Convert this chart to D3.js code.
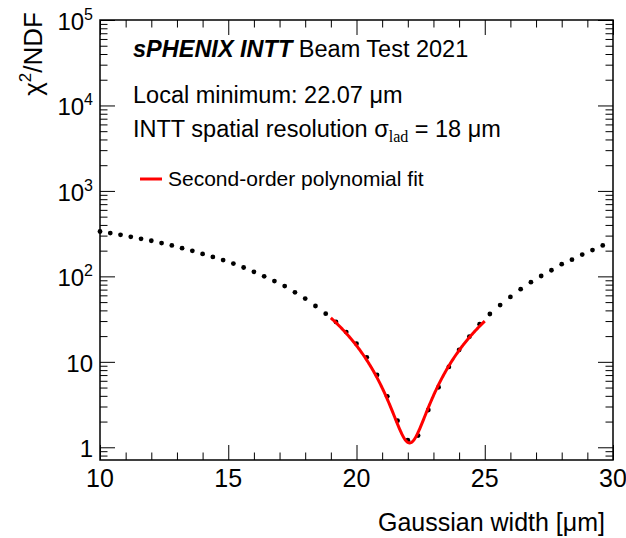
<!DOCTYPE html>
<html><head><meta charset="utf-8">
<script src="https://cdn.jsdelivr.net/npm/d3@7"></script>
<style>
body{margin:0;background:#fff}
svg{display:block}
text{font-family:"Liberation Sans", Arial, sans-serif;fill:#000}
</style>
</head><body>
<svg id="c" width="626" height="538"></svg>
<script>
// ---- data ----
const widths = [10.0,10.4,10.8,11.2,11.6,12.0,12.4,12.8,13.2,13.6,14.0,14.4,14.8,15.2,15.6,16.0,16.4,16.8,17.2,17.6,
                18.0,18.4,18.8,19.2,19.6,20.0,20.4,20.8,21.2,21.6,22.0,22.4,22.8,23.2,23.6,24.0,24.4,24.8,25.2,25.6,
                26.0,26.4,26.8,27.2,27.6,28.0,28.4,28.8,29.2,29.6];
const chi2 = [335,321,306,290,275,261,245,230,214,199,183,169,155,141,127,113,100,88,77,65,
              55,45,36.6,29.3,22.3,16.3,11.3,7.03,3.95,2.05,1.21,1.37,2.73,5.04,8.71,13.8,19.7,27.6,36.3,46.2,
              57.5,70.8,85.5,101,118,139,157,180,203,230];
const fitCoefficients = [1632.86, -147.869, 3.35]; // p0 + p1*x + p2*x^2
const fitRange = [19.0, 25.0];
const xTickValues = [10,15,20,25,30];
const xMinorValues = [11,12,13,14,16,17,18,19,21,22,23,24,26,27,28,29];
const yTickExponents = [0,1,2,3,4,5];
const yMinorMultipliers = [2,3,4,5,6,7,8,9];
const xDomain = [10,30];
const yDomain = [0.71,1e5];

// ---- layout ----
const L=100,R=613,T=20,B=460;
const svg = d3.select("#c");
const x = d3.scaleLinear().domain(xDomain).range([L,R]);
const y = d3.scaleLog().domain(yDomain).range([B,T]);

const yMajor = yTickExponents.map(e=>Math.pow(10,e));
const yMinor = [];
for (let e=-1;e<=4;e++) yMinorMultipliers.forEach(m=>{const v=m*Math.pow(10,e); if(v>=yDomain[0]&&v<=yDomain[1]) yMinor.push(v);});

function axisG(axis, tx, ty){
  const g = svg.append("g").attr("transform",`translate(${tx},${ty})`).call(axis);
  g.select(".domain").remove();
  g.selectAll(".tick line").attr("stroke","#000").attr("stroke-width",1);
  g.selectAll(".tick text").remove();
  return g;
}
const MAJ=15, MIN=7.5;
axisG(d3.axisBottom(x).tickValues(xTickValues).tickSize(-MAJ).tickFormat(""),0,B);
axisG(d3.axisBottom(x).tickValues(xMinorValues).tickSize(-MIN).tickFormat(""),0,B);
axisG(d3.axisTop(x).tickValues(xTickValues).tickSize(-MAJ).tickFormat(""),0,T);
axisG(d3.axisTop(x).tickValues(xMinorValues).tickSize(-MIN).tickFormat(""),0,T);
axisG(d3.axisLeft(y).tickValues(yMajor).tickSize(-MAJ).tickFormat(""),L,0);
axisG(d3.axisLeft(y).tickValues(yMinor).tickSize(-MIN).tickFormat(""),L,0);
axisG(d3.axisRight(y).tickValues(yMajor).tickSize(-MAJ).tickFormat(""),R,0);
axisG(d3.axisRight(y).tickValues(yMinor).tickSize(-MIN).tickFormat(""),R,0);

svg.append("rect").attr("x",L).attr("y",T).attr("width",R-L).attr("height",B-T)
  .attr("fill","none").attr("stroke","#000").attr("stroke-width",1.5);

// x tick labels
svg.append("g").selectAll("text").data(xTickValues).join("text")
  .attr("x",d=>x(d)).attr("y",B+27).attr("text-anchor","middle")
  .attr("font-size",25).text(d=>d);

// y tick labels
const yl = svg.append("g").selectAll("text").data(yTickExponents).join("text")
  .attr("x",93).attr("y",d=>y(Math.pow(10,d))+10).attr("text-anchor","end").attr("font-size",24);
yl.each(function(e){
  const t=d3.select(this);
  if(e===0) t.text("1");
  else if(e===1) t.text("10");
  else { t.append("tspan").text("10"); t.append("tspan").attr("font-size",16).attr("dy",-10).text(e); }
});

// points
svg.append("g").selectAll("circle").data(widths.map((w,i)=>[w,chi2[i]])).join("circle")
  .attr("cx",d=>x(d[0])).attr("cy",d=>y(d[1])).attr("r",2.4).attr("fill","#000");

// fit curve
const fitX = d3.range(0,301).map(i=>fitRange[0]+(fitRange[1]-fitRange[0])*i/300);
const fitF = v=>fitCoefficients[0]+fitCoefficients[1]*v+fitCoefficients[2]*v*v;
svg.append("path").datum(fitX).attr("fill","none").attr("stroke","#ff0000").attr("stroke-width",3)
  .attr("d",d3.line().x(d=>x(d)).y(d=>y(fitF(d))));

// texts
const t1 = svg.append("text").attr("x",133).attr("y",57).attr("font-size",23.5);
t1.append("tspan").attr("font-weight","bold").attr("font-style","italic").text("sPHENIX INTT");
t1.append("tspan").text(" Beam Test 2021");
svg.append("text").attr("x",133).attr("y",103).attr("font-size",23.5).text("Local minimum: 22.07 \u03bcm");
const t3 = svg.append("text").attr("x",133).attr("y",137).attr("font-size",23.5);
t3.append("tspan").text("INTT spatial resolution \u03c3");
t3.append("tspan").attr("font-family","Liberation Serif, Times New Roman, serif").attr("font-size",16).attr("dy",5).text("lad");
t3.append("tspan").attr("dy",-5).text(" = 18 \u03bcm");

// legend
svg.append("line").attr("x1",140).attr("x2",162).attr("y1",179).attr("y2",179).attr("stroke","#ff0000").attr("stroke-width",3);
svg.append("text").attr("x",168).attr("y",186).attr("font-size",21).text("Second-order polynomial fit");

// axis titles
svg.append("text").attr("x",605).attr("y",531).attr("text-anchor","end").attr("font-size",25).text("Gaussian width [\u03bcm]");
const yt = svg.append("text").attr("transform","translate(42,12) rotate(-90)").attr("text-anchor","end").attr("font-size",26);
yt.append("tspan").text("\u03c7");
yt.append("tspan").attr("font-size",17).attr("dy",-11).text("2");
yt.append("tspan").attr("dy",11).text("/NDF");
</script>
</body></html>
